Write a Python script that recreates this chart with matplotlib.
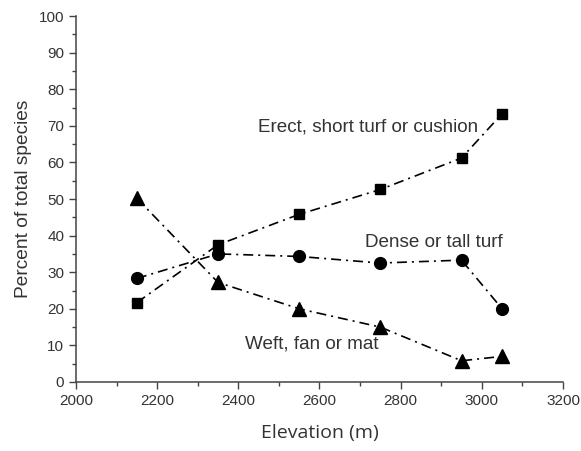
import matplotlib
matplotlib.use("Agg")
import matplotlib.pyplot as plt
from matplotlib.ticker import MultipleLocator

# Data
elevation = [2150, 2350, 2550, 2750, 2950, 3050]
erect = [21.7, 37.5, 45.8, 52.6, 61.2, 73.3]
dense = [28.3, 35.0, 34.3, 32.5, 33.3, 20.0]
weft = [50.2, 27.2, 20.0, 15.0, 5.8, 7.0]

txt = '#333333'
plt.rcParams['font.family'] = ['Liberation Sans', 'DejaVu Sans']

fig = plt.figure(figsize=(5.81, 4.51), dpi=100)
ax = fig.add_axes([0.1308, 0.153, 0.8382, 0.8115])

dd = (6, 3, 1.2, 3)
ax.plot(elevation, erect, color='black', ls='-.', dashes=dd, lw=1.2, marker='s', ms=7.5)
ax.plot(elevation, dense, color='black', ls='-.', dashes=dd, lw=1.2, marker='o', ms=8.5)
ax.plot(elevation, weft, color='black', ls='-.', dashes=dd, lw=1.2, marker='^', ms=9.5)

ax.text(2990, 69.7, 'Erect, short turf or cushion', ha='right', va='center', fontsize=13.6, color=txt)
ax.text(3052, 38.2, 'Dense or tall turf', ha='right', va='center', fontsize=13.6, color=txt)
ax.text(2416, 10.3, 'Weft, fan or mat', ha='left', va='center', fontsize=13.6, color=txt)

ax.set_xlim(2000, 3200)
ax.set_ylim(0, 100)
ax.xaxis.set_major_locator(MultipleLocator(200))
ax.xaxis.set_minor_locator(MultipleLocator(100))
ax.yaxis.set_major_locator(MultipleLocator(10))
ax.yaxis.set_minor_locator(MultipleLocator(5))

for s in ['top', 'right']:
    ax.spines[s].set_visible(False)
for s in ['left', 'bottom']:
    ax.spines[s].set_color('#444444')
    ax.spines[s].set_linewidth(1.1)

ax.tick_params(which='major', direction='out', length=5, width=1, color='#444444',
               labelsize=11, labelcolor=txt)
ax.tick_params(which='minor', direction='out', length=3, width=1, color='#444444')

ax.set_xlabel('Elevation (m)', fontsize=14, color=txt, family=['Open Sans', 'DejaVu Sans'], labelpad=12)
ax.set_ylabel('Percent of total species', fontsize=13.8, color=txt, labelpad=5)

fig.savefig('out.png', dpi=100)
